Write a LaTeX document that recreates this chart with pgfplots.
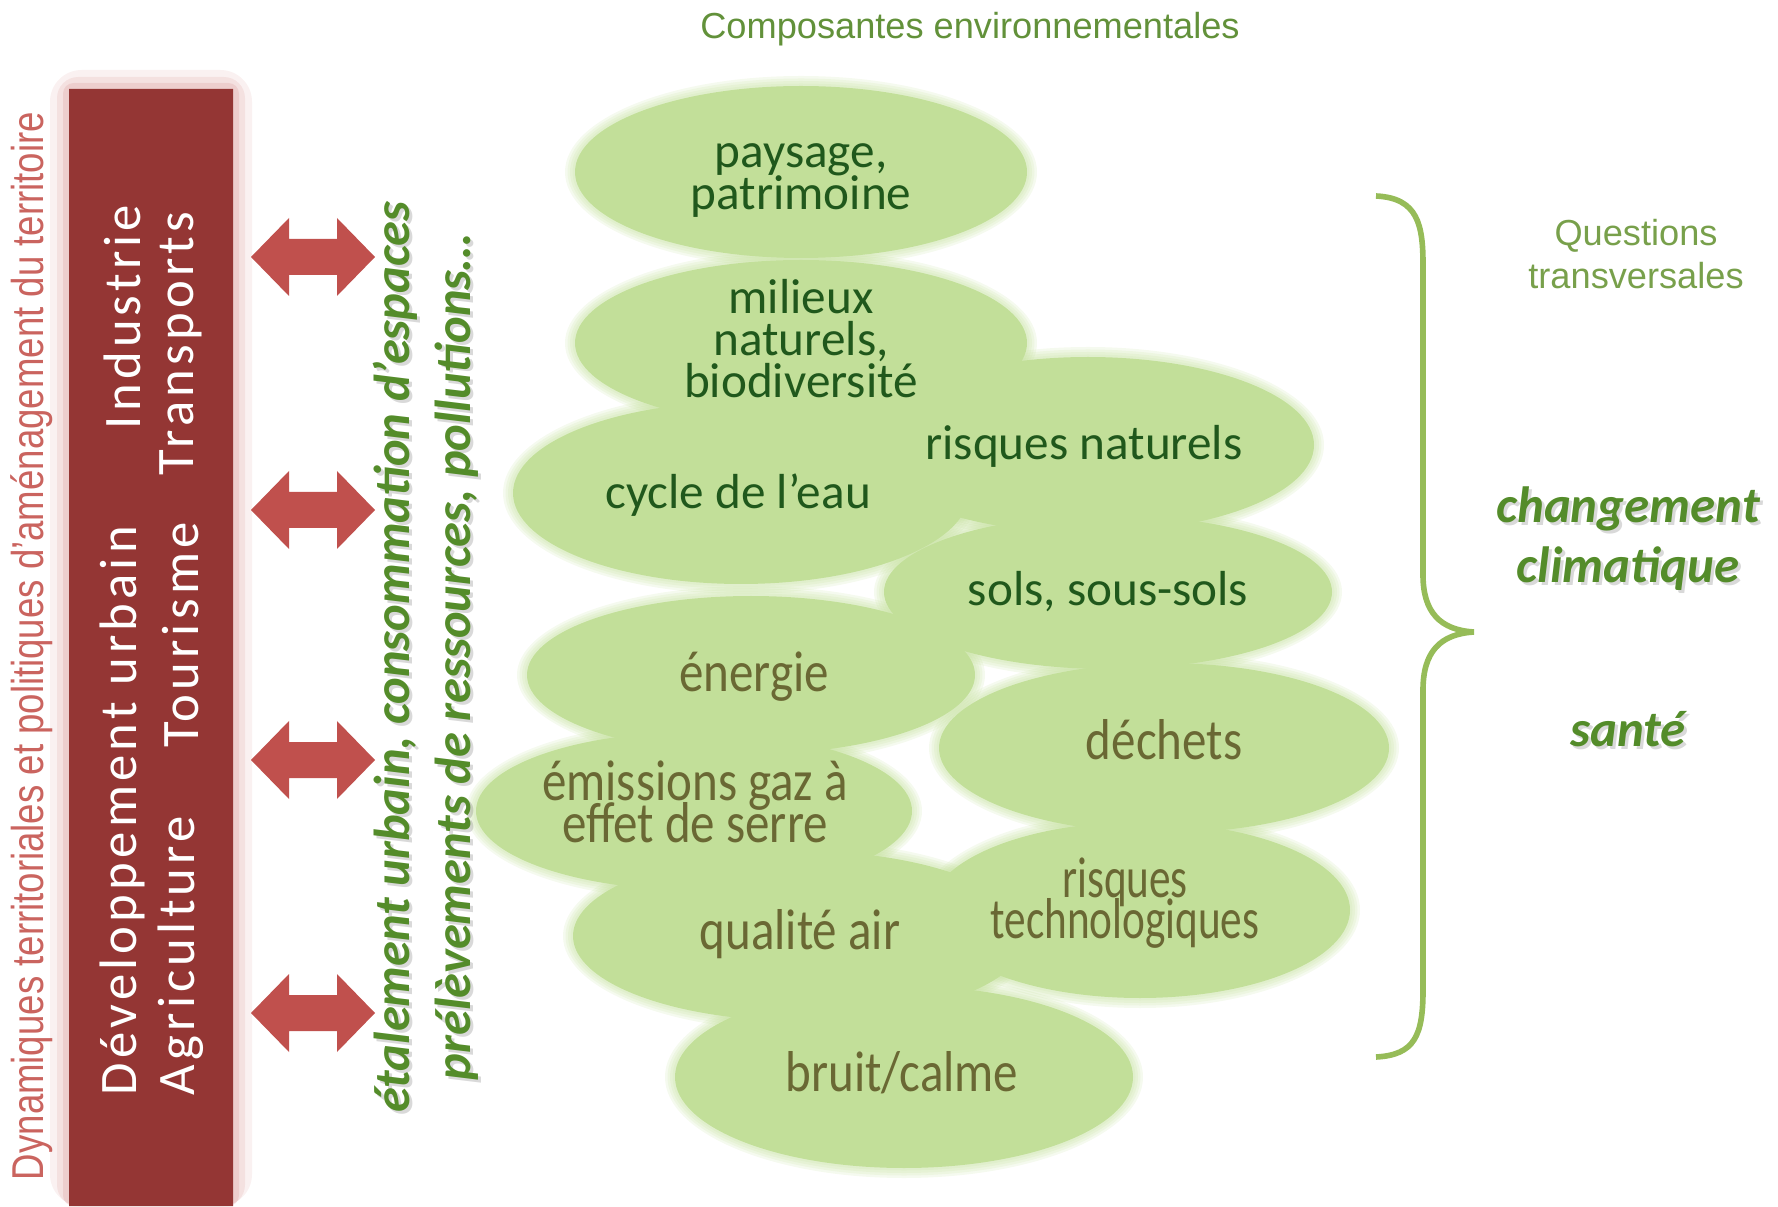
\documentclass[border=0pt]{standalone}
\usepackage{pgfplots}
\pgfplotsset{compat=1.18}
\usepackage{pgfplotstable}
\usepackage{fontspec}
\usepackage{graphicx}
\setmainfont{Liberation Sans}
\newfontfamily\calib{Carlito}
\newfontfamily\calibsp{Carlito}[LetterSpace=8]
\definecolor{ellgreen}{RGB}{194,223,153}
\definecolor{dkgreen}{RGB}{32,88,28}
\definecolor{olivetxt}{RGB}{106,104,52}
\definecolor{arrowred}{RGB}{192,80,77}
\definecolor{rectred}{RGB}{148,54,52}
\definecolor{pinktext}{RGB}{202,100,95}
\definecolor{titlegreen}{RGB}{98,145,58}
\definecolor{qgreen}{RGB}{120,160,75}
\definecolor{bracegreen}{RGB}{150,188,88}
\definecolor{boldgreen}{RGB}{84,140,42}

\pgfplotstableread{
x y rx ry
801 172 226 86
801 343 226 83
741 493 228 91
1088 445 226 88
1108 592 224 77
751 675 224 79
1164 748 225 85
694 811 218 79
1140 910 210 88
800 936 227 85
904 1077 229 91
}\ellipses

\pgfdeclareplotmark{ell}{%
  \pgfscope
  \pgfsetfillcolor{ellgreen}%
  \pgfsetfillopacity{0.16}%
  \foreach \dd in {1.0,0.75,0.5,0.25}{%
    \pgfmathsetlengthmacro\erx{\rx*0.1mm+\dd mm}%
    \pgfmathsetlengthmacro\ery{\ry*0.1mm+\dd mm}%
    \pgfpathellipse{\pgfpointorigin}{\pgfqpoint{\erx}{0pt}}{\pgfqpoint{0pt}{\ery}}%
    \pgfusepath{fill}%
  }%
  \pgfsetfillopacity{1}%
  \pgfmathsetlengthmacro\erx{\rx*0.1mm}%
  \pgfmathsetlengthmacro\ery{\ry*0.1mm}%
  \pgfpathellipse{\pgfpointorigin}{\pgfqpoint{\erx}{0pt}}{\pgfqpoint{0pt}{\ery}}%
  \pgfusepath{fill}%
  \endpgfscope
}

\newcommand\barfont{\calibsp\fontsize{15}{16}\selectfont}
\newcommand\bifont{\calib\bfseries\itshape\fontsize{14.4}{16}\selectfont}
\newcommand\rbifont{\calib\bfseries\itshape\fontsize{14.5}{17}\selectfont}
\tikzset{
  dk/.style={dkgreen, inner sep=0pt, text height=0.75em, text depth=0.22em, font=\calib\fontsize{14}{16}\selectfont},
  ol/.style={olivetxt, inner sep=0pt, text height=0.75em, text depth=0.22em, font=\calib\fontsize{16.4}{18}\selectfont},
}

\begin{document}
\begin{tikzpicture}
\begin{axis}[
  width=177.8mm, height=120.6mm, scale only axis,
  xmin=0, xmax=1778, ymin=0, ymax=1206, y dir=reverse,
  hide axis, clip=false, set layers=standard,
]
% glow around the red bar
\fill[arrowred, opacity=0.08, rounded corners=9pt] (axis cs:50,70) rectangle (axis cs:252,1206);
\fill[arrowred, opacity=0.10, rounded corners=6pt] (axis cs:57,77) rectangle (axis cs:245,1206);
\fill[arrowred, opacity=0.13, rounded corners=3pt] (axis cs:63,83) rectangle (axis cs:239,1206);
% red bar
\addplot[fill=rectred, draw=none] coordinates {(69,89) (233,89) (233,1206) (69,1206) (69,89)};
% double arrows
\addplot[fill=arrowred, draw=none] coordinates {(251,257)(289,218)(289,239)(337,239)(337,218)(375,257)(337,296)(337,275)(289,275)(289,296)(251,257)};
\addplot[fill=arrowred, draw=none] coordinates {(251,510)(289,471)(289,492)(337,492)(337,471)(375,510)(337,549)(337,528)(289,528)(289,549)(251,510)};
\addplot[fill=arrowred, draw=none] coordinates {(251,760)(289,721)(289,742)(337,742)(337,721)(375,760)(337,799)(337,778)(289,778)(289,799)(251,760)};
\addplot[fill=arrowred, draw=none] coordinates {(251,1013)(289,974)(289,995)(337,995)(337,974)(375,1013)(337,1052)(337,1031)(289,1031)(289,1052)(251,1013)};

% ellipses
\addplot[only marks, mark=ell, visualization depends on={\thisrow{rx}\as\rx}, visualization depends on={\thisrow{ry}\as\ry}] table[x=x, y=y] {\ellipses};

% brace
\draw[bracegreen, line width=1.6pt] (axis cs:1376,196) .. controls (axis cs:1418,198) and (axis cs:1423,225) .. (axis cs:1423,265) -- (axis cs:1423,575) .. controls (axis cs:1423,612) and (axis cs:1440,630) .. (axis cs:1474,632) .. controls (axis cs:1440,634) and (axis cs:1423,652) .. (axis cs:1423,690) -- (axis cs:1423,990) .. controls (axis cs:1423,1035) and (axis cs:1415,1055) .. (axis cs:1376,1057);

\begin{pgfonlayer}{axis foreground}
\node[dk] at (axis cs:801,158) {paysage,};
\node[dk] at (axis cs:801,200) {patrimoine};
\node[dk] at (axis cs:801,304) {milieux};
\node[dk] at (axis cs:801,346) {naturels,};
\node[dk] at (axis cs:801,388) {biodiversité};
\node[dk] at (axis cs:738,499) {cycle de l’eau};
\node[dk] at (axis cs:1084,450) {risques naturels};
\node[dk] at (axis cs:1108,596) {sols, sous-sols};
\node[ol] at (axis cs:754,682) {\scalebox{0.85}[1]{énergie}};
\node[ol] at (axis cs:1164,750) {\scalebox{0.85}[1]{déchets}};
\node[ol] at (axis cs:695,791) {\scalebox{0.85}[1]{émissions gaz à}};
\node[ol] at (axis cs:695,833) {\scalebox{0.85}[1]{effet de serre}};
\node[ol] at (axis cs:800,940) {\scalebox{0.85}[1]{qualité air}};
\node[ol] at (axis cs:1125,888) {\scalebox{0.75}[1]{risques}};
\node[ol] at (axis cs:1125,929) {\scalebox{0.75}[1]{technologiques}};
\node[ol] at (axis cs:902,1082) {\scalebox{0.85}[1]{bruit/calme}};

% title
\node[titlegreen, font=\fontsize{10.3}{12}\selectfont] at (axis cs:970,29) {Composantes environnementales};
% left vertical text
\node[pinktext, rotate=90, inner sep=0pt] at (axis cs:32,646) {\scalebox{0.82}[1]{\fontsize{12.7}{14}\selectfont Dynamiques territoriales et politiques d’aménagement du territoire}};
% texts in the red bar
\node[white, rotate=90, anchor=west, inner sep=0pt, font=\barfont] at (axis cs:122,1096) {Développement urbain};
\node[white, rotate=90, anchor=east, inner sep=0pt, font=\barfont] at (axis cs:122,204) {Industrie};
\node[white, rotate=90, anchor=west, inner sep=0pt, font=\barfont] at (axis cs:181,1096) {Agriculture};
\node[white, rotate=90, inner sep=0pt, font=\barfont] at (axis cs:181,635) {Tourisme};
\node[white, rotate=90, anchor=east, inner sep=0pt, font=\barfont] at (axis cs:181,211) {Transports};
% green italic rotated texts
\node[black!60, opacity=0.25, rotate=90, inner sep=0pt, font=\bifont] at (axis cs:398,660) {étalement urbain, consommation d’espaces};
\node[black!60, opacity=0.25, rotate=90, inner sep=0pt, font=\bifont] at (axis cs:460,660) {prélèvements de ressources, pollutions…};
\node[boldgreen, rotate=90, inner sep=0pt, font=\bifont] at (axis cs:395,657) {étalement urbain, consommation d’espaces};
\node[boldgreen, rotate=90, inner sep=0pt, font=\bifont] at (axis cs:457,657) {prélèvements de ressources, pollutions…};

% right texts
\node[qgreen, align=center, font=\fontsize{10.3}{12.2}\selectfont] at (axis cs:1636,254) {Questions\\transversales};
\node[black!60, opacity=0.25, align=center, font=\rbifont] at (axis cs:1631,542) {changement\\climatique};
\node[boldgreen, align=center, font=\rbifont] at (axis cs:1628,539) {changement\\climatique};
\node[black!60, opacity=0.25, font=\rbifont] at (axis cs:1631,732) {santé};
\node[boldgreen, font=\rbifont] at (axis cs:1628,729) {santé};
\end{pgfonlayer}
\end{axis}
\pgfresetboundingbox
\path (current axis.south west) rectangle (current axis.north east);
\end{tikzpicture}
\end{document}
